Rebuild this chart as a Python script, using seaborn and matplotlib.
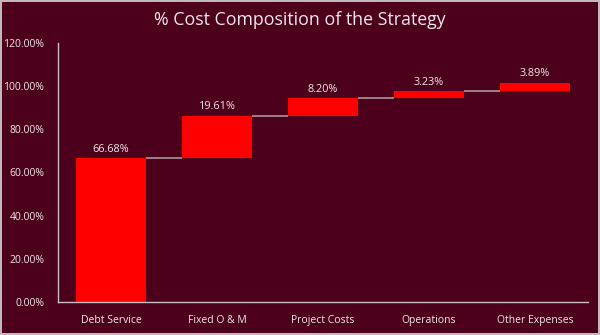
import matplotlib
matplotlib.use("Agg")
import matplotlib.pyplot as plt
import seaborn as sns
import numpy as np
import pandas as pd

categories = ["Debt Service", "Fixed O & M", "Project Costs", "Operations", "Other Expenses"]
values = [66.68, 19.61, 8.20, 3.23, 3.89]
labels = ["66.68%", "19.61%", "8.20%", "3.23%", "3.89%"]
yticks = [0, 20, 40, 60, 80, 100, 120]

bg = "#4d001c"
bar_color = "#ff0000"
text_color = "#f0e8ea"
line_color = "#a8999e"

sns.set_theme(style="white")
plt.rcParams["font.family"] = ["Open Sans", "DejaVu Sans"]

vals = np.array(values)
bottoms = np.concatenate([[0], np.cumsum(vals)[:-1]])
tops = bottoms + vals
df = pd.DataFrame({"cat": categories, "val": vals})

fig = plt.figure(figsize=(6, 3.35), dpi=100, facecolor=bg)
fig.patch.set_edgecolor("#c0b8ba")
fig.patch.set_linewidth(1.5)
ax = fig.add_axes([0.097, 0.0985, 0.883, 0.7735])
ax.set_facecolor(bg)

width = 0.66
sns.barplot(data=df, x="cat", y="val", color=bar_color, saturation=1,
            width=width, bottom=bottoms, ax=ax, linewidth=0)

# connectors
for i in range(len(vals) - 1):
    ax.plot([i + width / 2, i + 1 - width / 2], [tops[i], tops[i]],
            color=line_color, lw=1.2, solid_capstyle="butt", zorder=1)

for i, lab in enumerate(labels):
    ax.text(i, tops[i] + 1.5, lab, ha="center", va="bottom",
            color=text_color, fontsize=7.8)

ax.set_ylim(0, 120)
ax.set_xlim(-0.5, len(vals) - 0.5)
ax.set_yticks(yticks)
ax.set_yticklabels([f"{t:.2f}%" for t in yticks])
ax.tick_params(axis="both", colors=text_color, labelsize=7.5, length=0)
ax.tick_params(axis="y", pad=10)
ax.tick_params(axis="x", pad=9)
ax.set_xlabel("")
ax.set_ylabel("")
for s in ["top", "right"]:
    ax.spines[s].set_visible(False)
for s in ["left", "bottom"]:
    ax.spines[s].set_color("#c8c0c2")
    ax.spines[s].set_linewidth(1)

fig.text(0.5, 0.94, "% Cost Composition of the Strategy", ha="center", va="center",
         color=text_color, fontsize=12.8)

fig.savefig("out.png", dpi=100, facecolor=bg, edgecolor=fig.patch.get_edgecolor())
